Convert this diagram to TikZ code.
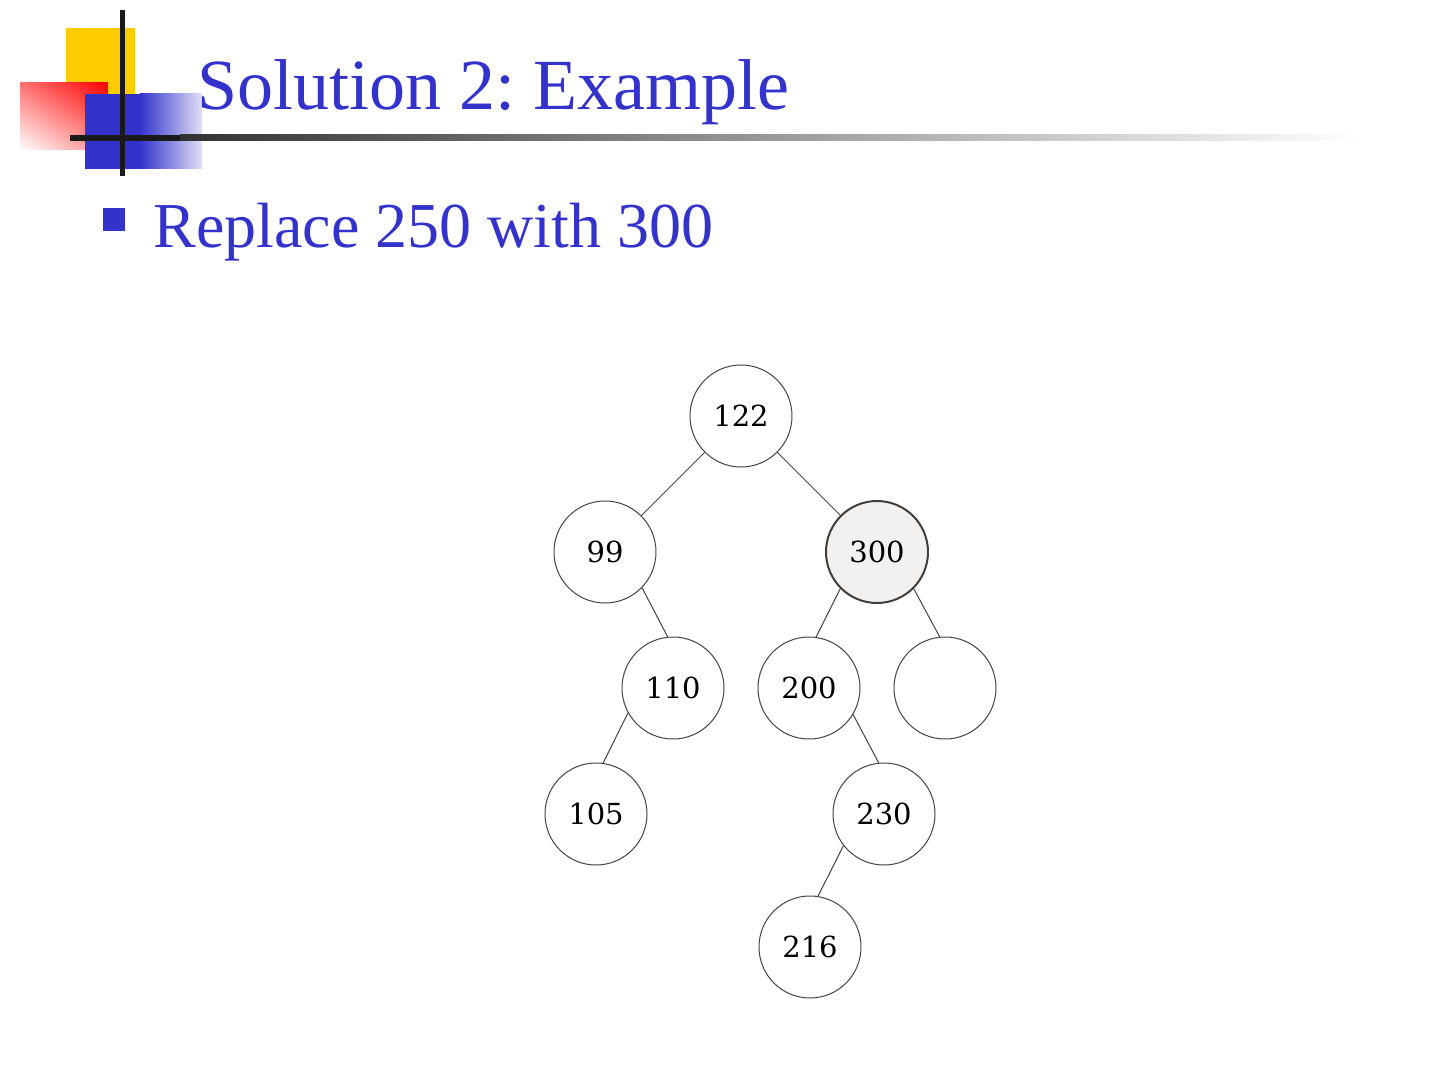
\documentclass[tikz,border=0pt]{standalone}
\usepackage{fontspec}
\setmainfont{Liberation Serif}
\newfontfamily\treefont{DejaVu Serif}
\usetikzlibrary{positioning,shadings}
\definecolor{slideblue}{RGB}{51,51,204}
\definecolor{decoyellow}{RGB}{255,204,0}
\definecolor{decored}{RGB}{255,0,0}
\definecolor{barblack}{RGB}{26,26,26}
\definecolor{edgegray}{RGB}{68,68,68}
\definecolor{hilite}{RGB}{242,241,240}
\tikzset{
  title/.style={anchor=base west,inner sep=0pt,text=slideblue,font=\fontsize{36}{40}\selectfont},
  bullettext/.style={anchor=base west,inner sep=0pt,text=slideblue,font=\fontsize{32}{36}\selectfont},
  key/.style={circle,draw=edgegray,line width=0.5pt,fill=white,minimum size=51pt,inner sep=0pt,font=\treefont\fontsize{14.5}{16}\selectfont},
  picked/.style={key,draw=black!75,line width=1pt,fill=hilite},
  link/.style={draw=edgegray,line width=0.5pt}
}
\frenchspacing

\begin{document}
\begin{tikzpicture}[x=0.5pt,y=-0.5pt]
  \useasboundingbox (0,0) rectangle (1440,1080);
  \fill[white] (0,0) rectangle (1440,1080);

  % corner decoration
  \fill[decoyellow] (66,28) rectangle (135,94);
  \shade[upper left=decored!55,upper right=decored,lower left=white,lower right=decored!45]
    (20,83) rectangle (108,150);
  \fill[slideblue] (85,94) rectangle (141,169);
  \shade[left color=slideblue,right color=slideblue!15] (140,94) rectangle (202,169);
  \fill[barblack] (119.5,10) rectangle (124.5,176);
  \fill[barblack] (70,135) rectangle (181,141);
  \shade[left color=black!80,right color=white] (180,135) rectangle (1360,141);

  % heading
  \node[title] (heading) at (197,110) {Solution 2: Example};
  \fill[slideblue] (103,208) rectangle (125,231);
  \node[bullettext] (point) at (153,248) {Replace 250 with 300};

  % tree
  \node[key] (n122) at (741,416) {122};
  \node[key] (n99) at (605,552) {99};
  \node[picked] (n300) at (877,552) {300};
  \node[key] (n110) at (673,688) {110};
  \node[key] (n200) at (809,688) {200};
  \node[key] (nnil) at (945,688) {};
  \node[key] (n105) at (596,814) {105};
  \node[key] (n230) at (884,814) {230};
  \node[key] (n216) at (810,947) {216};

  \draw[link] (n122.-135) -- (n99.45);
  \draw[link] (n122.-45) -- (n300.135);
  \draw[link] (n99.-44) -- (n110.96);
  \draw[link] (n300.-135) -- (n200.82);
  \draw[link] (n300.-45) -- (nnil.96);
  \draw[link] (n110.-151) -- (n105.82);
  \draw[link] (n200.-31) -- (n230.96);
  \draw[link] (n230.-142) -- (n216.81);
\end{tikzpicture}
\end{document}
